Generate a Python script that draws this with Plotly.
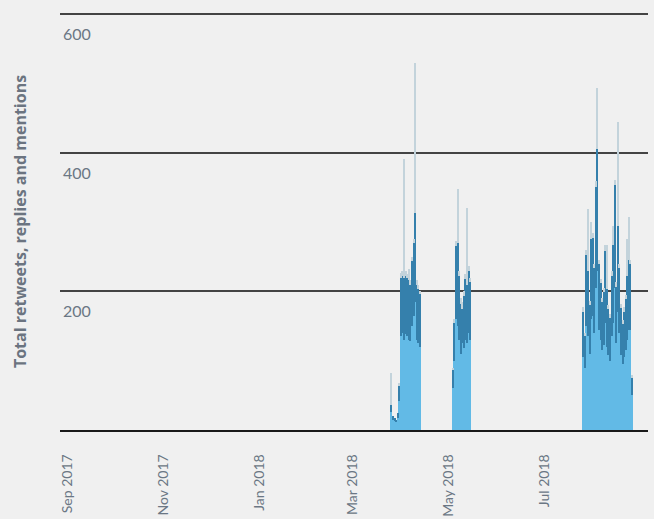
import pandas as pd
import plotly.graph_objects as go

# ---- data -------------------------------------------------------------
cluster_starts = ["2018-03-26", "2018-05-04", "2018-07-26"]

retweets_1 = [26, 14, 13, 11, 17, 42, 135, 140, 130, 138, 135, 130, 128, 150, 165, 185, 130, 126, 120]
replies_1 = [10, 6, 5, 4, 8, 22, 85, 82, 90, 85, 84, 86, 82, 94, 105, 129, 80, 78, 76]
mentions_1 = [47, 0, 0, 0, 0, 4, 6, 8, 171, 7, 6, 17, 6, 6, 6, 216, 6, 6, 5]

retweets_2 = [60, 100, 160, 150, 130, 110, 125, 118, 130, 125, 140, 130]
replies_2 = [26, 55, 105, 120, 92, 72, 50, 76, 88, 85, 90, 84]
mentions_2 = [4, 5, 8, 78, 8, 8, 10, 6, 7, 110, 7, 6]

retweets_3 = [105, 90, 150, 135, 110, 160, 165, 140, 205, 230, 145, 130, 115, 122, 155, 120,
              108, 100, 135, 155, 205, 125, 170, 140, 108, 95, 105, 115, 130, 145, 145, 50]
replies_3 = [66, 45, 102, 95, 70, 116, 112, 94, 146, 176, 94, 82, 70, 77, 104, 84,
             66, 62, 88, 112, 148, 82, 124, 94, 68, 58, 66, 74, 92, 100, 94, 25]
mentions_3 = [6, 5, 8, 89, 6, 25, 8, 6, 8, 88, 6, 6, 6, 6, 8, 63,
              6, 6, 7, 27, 8, 6, 150, 6, 6, 6, 6, 6, 54, 62, 6, 4]

y_tick_values = [200, 400, 600]
y_tick_labels = ["200", "400", "600"]
x_tick_values = ["2017-09-01", "2017-11-01", "2018-01-01", "2018-03-01", "2018-05-01", "2018-07-01"]
x_range = ["2017-08-27", "2018-09-05"]
y_range = [0, 602]

series_names = ["Retweets", "Replies", "Mentions"]
series_colors = ["#62bae6", "#3580ac", "#c3d3db"]

# ---- assemble ----------------------------------------------------------
groups = [(retweets_1, replies_1, mentions_1),
          (retweets_2, replies_2, mentions_2),
          (retweets_3, replies_3, mentions_3)]

dates, rt, rp, mn = [], [], [], []
for start, (a, b, c) in zip(cluster_starts, groups):
    dates += list(pd.date_range(start, periods=len(a), freq="D"))
    rt += a
    rp += b
    mn += c

fig = go.Figure()
for name, vals, col in zip(series_names, [rt, rp, mn], series_colors):
    fig.add_trace(go.Bar(
        x=dates, y=vals, name=name,
        marker=dict(color=col, line=dict(width=0)),
        width=86400000 * 0.95,
    ))

font_fam = "Lato, 'Open Sans', sans-serif"
fig.update_layout(
    width=654, height=519,
    barmode="stack", bargap=0,
    showlegend=False,
    paper_bgcolor="#f0f0f0", plot_bgcolor="#f0f0f0",
    margin=dict(l=60, r=6, t=13, b=89, autoexpand=False),
    font=dict(family=font_fam, color="#6b7784"),
)
fig.update_xaxes(
    type="date", range=x_range,
    tickvals=x_tick_values, tickformat="%b %Y",
    tickangle=-90, tickfont=dict(size=14, color="#6b7784"),
    ticklabelstandoff=17, ticklabeloverflow="allow",
    showgrid=False, zeroline=False,
    showline=True, linecolor="#1a1a1a", linewidth=1.5,
    automargin=False,
)
fig.update_yaxes(
    range=y_range, tickvals=y_tick_values, ticktext=y_tick_labels,
    ticklabelposition="inside", ticklabelshift=20, ticklabeloverflow="allow",
    tickfont=dict(size=16, color="#6b7784"),
    showgrid=True, gridcolor="#444444", gridwidth=1.5,
    zeroline=False, showline=False,
    automargin=False,
    title=dict(text="<b>Total retweets, replies and mentions</b>",
               font=dict(size=16, color="#6b7480", family="'Open Sans', sans-serif"),
               standoff=32),
)

fig.write_html("out.html", config={"displayModeBar": False},
               post_script="document.body.style.margin='0';")
